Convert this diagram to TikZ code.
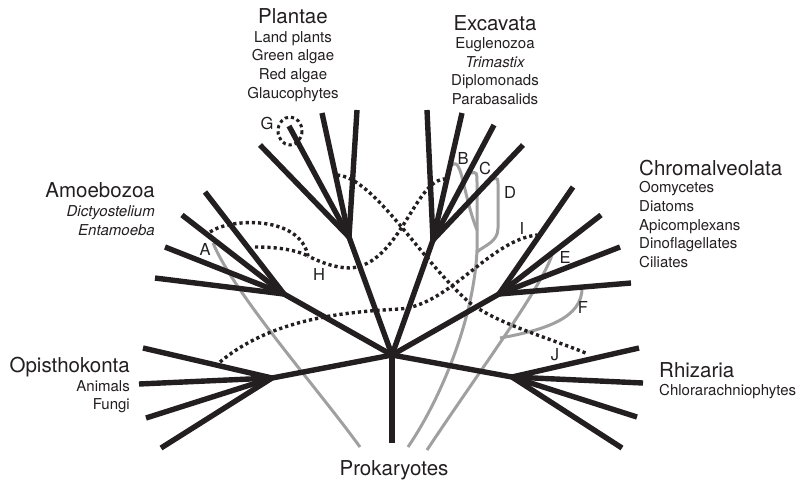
\documentclass[tikz,border=0pt]{standalone}
\usepackage{fontspec}
\setmainfont{TeX Gyre Heros}
\definecolor{ink}{HTML}{231F20}
\definecolor{lgray}{HTML}{A0A0A0}
\begin{document}
\begin{tikzpicture}[x=1pt,y=-1pt,
  br/.style={line width=5.4pt, draw=ink},
  gr/.style={line width=3pt, draw=lgray},
  dt/.style={line width=3.4pt, draw=ink, dash pattern=on 3.2pt off 3pt},
  ttl/.style={font=\fontsize{20.5}{24}\selectfont, text=ink, inner sep=0pt},
  itm/.style={font=\fontsize{15}{18}\selectfont, text=ink, inner sep=0pt},
  lbl/.style={font=\fontsize{16.5}{19}\selectfont, text=ink, inner sep=0pt}]
\useasboundingbox (0,0) rectangle (802,483);

% gray curves (behind)
\draw[gr] (213,243) .. controls (235,295) and (315,385) .. (360,447);
\draw[gr] (452,165) .. controls (462,156) and (463,195) .. (477,230);
\draw[gr] (471,173) .. controls (477,172) .. (477,185) -- (477,250) .. controls (474,320) and (440,400) .. (408,447);
\draw[gr] (493,179) .. controls (498,178) .. (498,186) -- (498,228) .. controls (498,242) and (485,245) .. (477,252);
\draw[gr] (552,255) .. controls (540,290) and (480,370) .. (427,450);
\draw[gr] (582,287) .. controls (583,318) and (545,330) .. (500,338);

% coordinates
\coordinate (root) at (392,355);
\coordinate (pro) at (392,443);
\coordinate (pl) at (349,237);
\coordinate (pl1) at (260,145);
\coordinate (pl2) at (289,126);
\coordinate (pl3) at (322,113);
\coordinate (pl4) at (357,110);
\coordinate (ex) at (433,240);
\coordinate (ex1) at (427,110);
\coordinate (ex2) at (462,113);
\coordinate (ex3) at (494,125);
\coordinate (ex4) at (523,145);
\coordinate (ch) at (499,294);
\coordinate (ch1) at (573,187);
\coordinate (ch2) at (601,215);
\coordinate (ch3) at (620,247);
\coordinate (ch4) at (631,283);
\coordinate (rh) at (512,377);
\coordinate (rh1) at (639,348);
\coordinate (rh2) at (643,383);
\coordinate (rh3) at (637,417);
\coordinate (rh4) at (622,448);
\coordinate (op) at (272,378);
\coordinate (op1) at (143,348);
\coordinate (op2) at (139,384);
\coordinate (op3) at (146,418);
\coordinate (op4) at (161,448);
\coordinate (am) at (284,294);
\coordinate (am1) at (205,192);
\coordinate (am2) at (182,215);
\coordinate (am3) at (165,247);
\coordinate (am4) at (155,278);

% dotted lines
\draw[dt] (337,175) .. controls (375,178) and (420,260) .. (470,303) .. controls (500,325) and (550,338) .. (588,354);
\draw[dt] (446,179) .. controls (415,178) and (400,265) .. (350,268) .. controls (335,268) and (320,262) .. (308,256);
\draw[dt] (210,232) .. controls (230,218) and (300,215) .. (308,256);
\draw[dt] (255,247) .. controls (285,247) and (300,252) .. (308,256);
\draw[dt] (220,362) .. controls (270,320) and (340,312) .. (400,309) .. controls (450,305) and (490,240) .. (537,235);
\draw[dt, line width=3pt] (290,131) ellipse [x radius=12, y radius=14];

% tree
\draw[br] (root) -- (pro);
\foreach \h in {pl,ex,ch,rh,op,am}{
  \draw[br] (root) -- (\h);
  \foreach \i in {1,2,3,4}{\draw[br] (\h) -- (\h\i);}
}

% titles and items
\node[ttl, anchor=base] (tpl) at (293,23) {Plantae};
\node[itm, anchor=base] (pla) at (293,42) {Land plants};
\node[itm, anchor=base] (plb) at (293,60.7) {Green algae};
\node[itm, anchor=base] (plc) at (293,79.4) {Red algae};
\node[itm, anchor=base] (pld) at (293,98.1) {Glaucophytes};

\node[ttl, anchor=base] (tex) at (495,30) {Excavata};
\node[itm, anchor=base] (exa) at (495,48.5) {Euglenozoa};
\node[itm, anchor=base] (exb) at (495,67.2) {\itshape Trimastix};
\node[itm, anchor=base] (exc) at (495,85.9) {Diplomonads};
\node[itm, anchor=base] (exd) at (495,104.6) {Parabasalids};

\node[ttl, anchor=base west] (tch) at (639,175) {Chromalveolata};
\node[itm, anchor=base west] (cha) at (639,192.8) {Oomycetes};
\node[itm, anchor=base west] (chb) at (639,211.4) {Diatoms};
\node[itm, anchor=base west] (chc) at (639,230) {Apicomplexans};
\node[itm, anchor=base west] (chd) at (639,248.6) {Dinoflagellates};
\node[itm, anchor=base west] (che) at (639,267.2) {Ciliates};

\node[ttl, anchor=base east] (tam) at (155,197) {Amoebozoa};
\node[itm, anchor=base east] (ama) at (155,216) {\itshape Dictyostelium};
\node[itm, anchor=base east] (amb) at (155,235) {\itshape Entamoeba};

\node[ttl, anchor=base east] (top) at (130,372) {Opisthokonta};
\node[itm, anchor=base east] (opa) at (130,391) {Animals};
\node[itm, anchor=base east] (opb) at (130,409) {Fungi};

\node[ttl, anchor=base west] (trh) at (659,377) {Rhizaria};
\node[itm, anchor=base west] (rha) at (659,395) {Chlorarachniophytes};

\node[ttl, anchor=base] (tpro) at (394,475) {Prokaryotes};

% letters
\node[lbl] (lA) at (205,249) {A};
\node[lbl] (lB) at (463,158) {B};
\node[lbl] (lC) at (485,168) {C};
\node[lbl] (lD) at (510,192) {D};
\node[lbl] (lE) at (565,257) {E};
\node[lbl] (lF) at (583,307) {F};
\node[lbl] (lG) at (267,123) {G};
\node[lbl] (lH) at (319,274) {H};
\node[lbl] (lI) at (522,228) {I};
\node[lbl] (lJ) at (555,355) {J};
\end{tikzpicture}
\end{document}
